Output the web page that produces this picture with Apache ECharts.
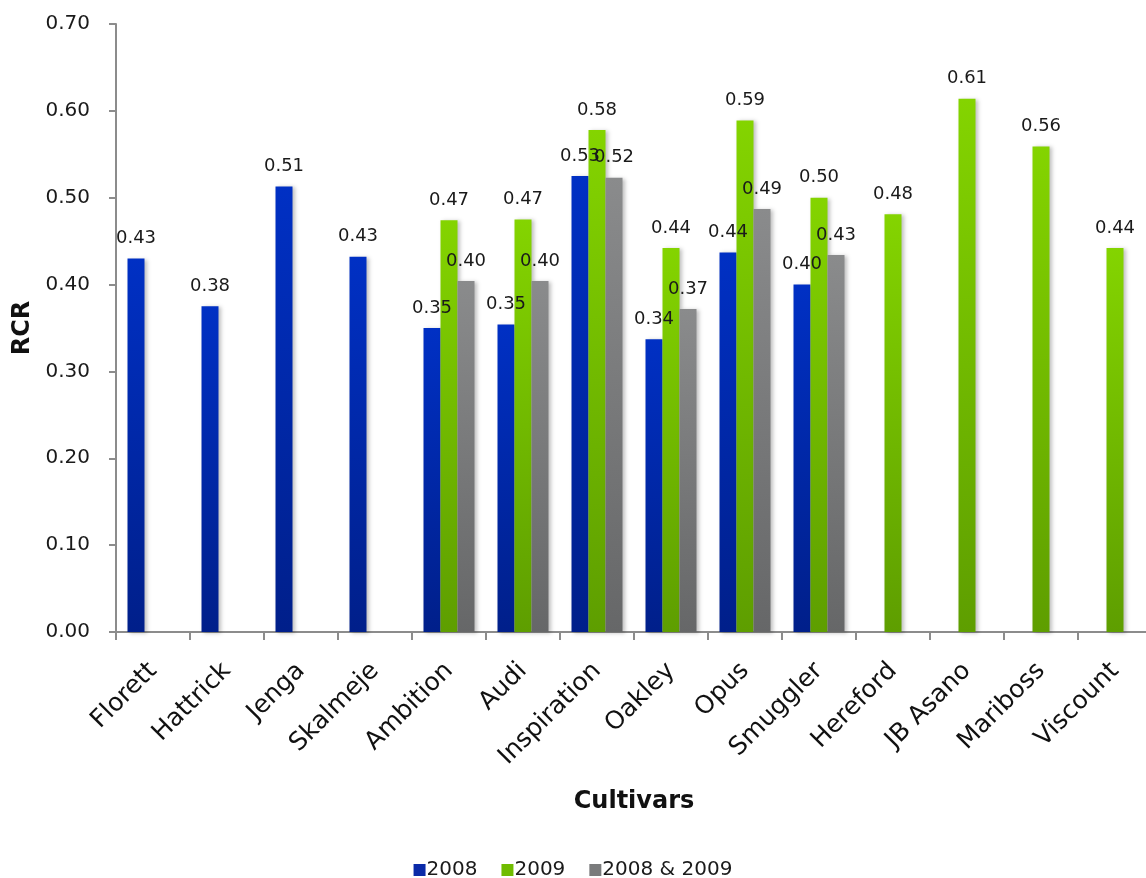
<!DOCTYPE html>
<html>
<head>
<meta charset="utf-8">
<script src="https://cdn.jsdelivr.net/npm/echarts@6/dist/echarts.min.js"></script>
<style>
  html, body { margin: 0; padding: 0; background: #fff; }
  #chart { width: 1146px; height: 878px; }
</style>
</head>
<body>
<div id="chart"></div>
<script>
// Cultivars on the category axis
const cultivars = ['Florett', 'Hattrick', 'Jenga', 'Skalmeje', 'Ambition', 'Audi', 'Inspiration',
  'Oakley', 'Opus', 'Smuggler', 'Hereford', 'JB Asano', 'Mariboss', 'Viscount'];

// RCR per cultivar and season (null = not tested that season)
const rcr2008 = [0.43, 0.375, 0.513, 0.432, 0.35, 0.354, 0.525, 0.337, 0.437, 0.40, null, null, null, null];
const rcr2009 = [null, null, null, null, 0.474, 0.475, 0.578, 0.442, 0.589, 0.50, 0.481, 0.614, 0.559, 0.442];
const rcrBoth = [null, null, null, null, 0.404, 0.404, 0.523, 0.372, 0.487, 0.434, null, null, null, null];

const seriesNames = ['2008', '2009', '2008 & 2009'];

const FONT = '"DejaVu Sans", Verdana, sans-serif';

function grad(top, bottom) {
  return new echarts.graphic.LinearGradient(0, 0, 0, 1, [
    { offset: 0, color: top },
    { offset: 1, color: bottom }
  ]);
}

const fills = [
  grad('#0030c4', '#001f8a'),
  grad('#84d400', '#5e9e00'),
  grad('#8a8b8c', '#666768')
];
const legendColors = ['#0a2aa8', '#70bc00', '#7a7b7c'];

function barSeries(name, data, idx) {
  return {
    name: name,
    type: 'bar',
    data: data,
    barWidth: 17,
    barGap: '0%',
    itemStyle: {
      color: fills[idx],
      shadowColor: 'rgba(0,0,0,0.25)',
      shadowBlur: 4,
      shadowOffsetX: 2,
      shadowOffsetY: 1
    },
    label: {
      show: true,
      position: 'top',
      distance: 11,
      fontFamily: FONT,
      fontSize: 18,
      color: '#1a1a1a',
      formatter: p => (p.value == null ? '' : Number(p.value).toFixed(2))
    },
    emphasis: { disabled: true }
  };
}

const chart = echarts.init(document.getElementById('chart'), null, { renderer: 'canvas' });
chart.setOption({
  animation: false,
  backgroundColor: '#ffffff',
  grid: { left: 116, top: 24, width: 1036, height: 608, containLabel: false, outerBoundsMode: 'none' },
  legend: {
    top: 855,
    left: 'center',
    itemWidth: 12,
    itemHeight: 12,
    itemGap: 24,
    icon: 'rect',
    textStyle: { fontFamily: FONT, fontSize: 20, color: '#1a1a1a', padding: [0, 0, 0, -4] },
    data: seriesNames.map((n, i) => ({ name: n, itemStyle: { color: legendColors[i] } }))
  },
  xAxis: {
    type: 'category',
    data: cultivars,
    name: 'Cultivars',
    nameLocation: 'middle',
    nameGap: 158,
    nameTextStyle: { fontFamily: FONT, fontSize: 24, fontWeight: 'bold', color: '#111' },
    axisLine: { lineStyle: { color: '#8c8c8c', width: 2 } },
    axisTick: { show: true, length: 8, alignWithLabel: false, lineStyle: { color: '#8c8c8c', width: 2 }, inside: false },
    axisLabel: {
      rotate: 45,
      interval: 0,
      margin: 35,
      fontFamily: FONT,
      fontSize: 25,
      color: '#111'
    }
  },
  yAxis: {
    type: 'value',
    min: 0,
    max: 0.7,
    interval: 0.1,
    name: 'RCR',
    nameLocation: 'middle',
    nameGap: 79,
    nameRotate: 90,
    nameTextStyle: { fontFamily: FONT, fontSize: 24, fontWeight: 'bold', color: '#111' },
    axisLine: { show: true, lineStyle: { color: '#8c8c8c', width: 2 } },
    axisTick: { show: true, length: 7, lineStyle: { color: '#8c8c8c', width: 2 } },
    splitLine: { show: false },
    axisLabel: {
      margin: 26,
      fontFamily: FONT,
      fontSize: 20,
      color: '#1a1a1a',
      formatter: v => v.toFixed(2)
    }
  },
  series: [
    barSeries(seriesNames[0], rcr2008, 0),
    barSeries(seriesNames[1], rcr2009, 1),
    barSeries(seriesNames[2], rcrBoth, 2)
  ]
});
</script>
</body>
</html>
